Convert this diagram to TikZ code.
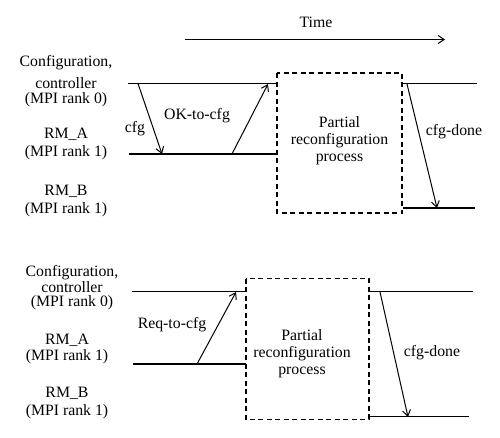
\documentclass[tikz,border=0pt]{standalone}
\usepackage{fontspec}
\setmainfont{Liberation Serif}
\usetikzlibrary{arrows.meta}
\begin{document}
\begin{tikzpicture}[x=1pt,y=-1pt,
  lbl/.style={font=\fontsize{15.8}{17}\selectfont, inner sep=0pt, anchor=center},
  tl/.style={line width=1.3pt},
  msg/.style={line width=1pt, -{Straight Barb[length=6pt,width=8pt,line width=1pt]}},
  pbox/.style={draw, line width=1.2pt, dash pattern=on 5pt off 3.5pt}]
\useasboundingbox (0,0) rectangle (500,437);
\fill[white] (0,0) rectangle (500,437);
% Time axis
\node[lbl] (time) at (316,22) {Time};
\coordinate (t1) at (185,39.5);
\coordinate (t2) at (445,39.5);
\draw[msg] (t1) -- (t2);
% ---- top diagram ----
\node[lbl] (c1a) at (66,63) {Configuration,};
\node[lbl] (c1b) at (66,83) {controller};
\node[lbl] (c1c) at (66,100) {(MPI rank 0)};
\node[lbl] (a1a) at (66,134) {RM\_A};
\node[lbl] (a1b) at (66,153) {(MPI rank 1)};
\node[lbl] (b1a) at (66,191) {RM\_B};
\node[lbl] (b1b) at (66,210) {(MPI rank 1)};
\coordinate (c1s) at (128,83.5); \coordinate (c1e) at (277,83.5);
\coordinate (c1r) at (403,83.5); \coordinate (c1f) at (477,83.5);
\coordinate (a1s) at (129,154); \coordinate (a1e) at (277,154);
\coordinate (b1r) at (403,208); \coordinate (b1f) at (475,208);
\draw[tl] (c1s) -- (c1e);
\draw[tl] (c1r) -- (c1f);
\draw[tl] (a1s) -- (a1e);
\draw[tl] (b1r) -- (b1f);
\draw[pbox] (277,73) rectangle (402,213);
\node[lbl, align=center] (p1) at (339.5,141) {Partial\\reconfiguration\\process};
\coordinate (m1s) at (138,83.5); \coordinate (m1e) at (162,154);
\draw[msg] (m1s) -- (m1e);
\coordinate (m2s) at (232,154); \coordinate (m2e) at (268,84);
\draw[msg] (m2s) -- (m2e);
\coordinate (m3s) at (407,84); \coordinate (m3e) at (437,208);
\draw[msg] (m3s) -- (m3e);
\node[lbl] (l1) at (135,129) {cfg};
\node[lbl] (l2) at (197,116) {OK-to-cfg};
\node[lbl] (l3) at (454,132) {cfg-done};
% ---- bottom diagram ----
\node[lbl] (c2a) at (72,273) {Configuration,};
\node[lbl] (c2b) at (72,287) {controller};
\node[lbl] (c2c) at (72,303) {(MPI rank 0)};
\node[lbl] (a2a) at (67,340) {RM\_A};
\node[lbl] (a2b) at (67,357) {(MPI rank 1)};
\node[lbl] (b2a) at (67,393) {RM\_B};
\node[lbl] (b2b) at (67,412) {(MPI rank 1)};
\coordinate (c2s) at (132,291.7); \coordinate (c2e) at (246,291.7);
\coordinate (c2r) at (370,291.7); \coordinate (c2f) at (473,291.7);
\coordinate (a2s) at (133,364); \coordinate (a2e) at (246,364);
\coordinate (b2r) at (370,416.7); \coordinate (b2f) at (469,416.7);
\draw[tl] (c2s) -- (c2e);
\draw[tl] (c2r) -- (c2f);
\draw[tl] (a2s) -- (a2e);
\draw[tl] (b2r) -- (b2f);
\draw[pbox] (246,278.7) rectangle (369,419.3);
\node[lbl, align=center] (p2) at (302,354) {Partial\\reconfiguration\\process};
\coordinate (m4s) at (197,364); \coordinate (m4e) at (236,292);
\draw[msg] (m4s) -- (m4e);
\coordinate (m5s) at (380,292); \coordinate (m5e) at (408,417);
\draw[msg] (m5s) -- (m5e);
\node[lbl] (l4) at (172,325) {Req-to-cfg};
\node[lbl] (l5) at (432,353) {cfg-done};
\end{tikzpicture}
\end{document}
